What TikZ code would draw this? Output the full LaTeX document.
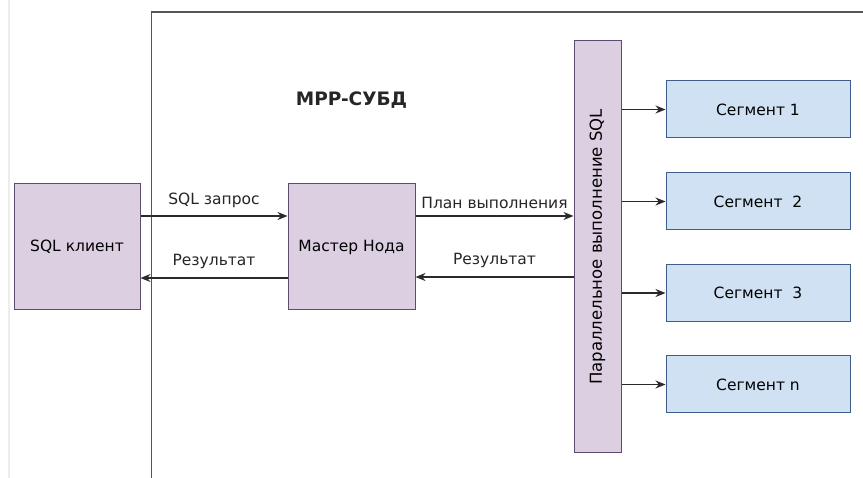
\documentclass[tikz,border=0pt]{standalone}
\usepackage{fontspec}
\setmainfont{DejaVu Sans}
\usetikzlibrary{arrows.meta}

\definecolor{lilacfill}{HTML}{DCCFE2}
\definecolor{lilacline}{HTML}{5E4C70}
\definecolor{segfill}{HTML}{CFE1F2}
\definecolor{segline}{HTML}{3F5F8A}
\definecolor{frameline}{HTML}{555555}
\definecolor{arrowline}{HTML}{2A2A2A}
\definecolor{faint}{HTML}{EDEDED}

\tikzset{
  lilacbox/.style={draw=lilacline, fill=lilacfill, line width=1pt, inner sep=0pt},
  segbox/.style={draw=segline, fill=segfill, line width=1pt, inner sep=0pt,
                 minimum width=184pt, minimum height=57pt},
  flow/.style={draw=arrowline, line width=1.5pt, -{Stealth[length=10pt,width=8pt]}},
  lbl/.style={inner sep=0pt, text=black!85},
}

\begin{document}
\begin{tikzpicture}[x=1pt, y=-1pt, font=\fontsize{15.5}{18}\selectfont]
  \useasboundingbox (0,0) rectangle (863,478);
  \fill[white] (0,0) rectangle (863,478);

  % faint edge on the left and the system frame
  \draw[faint, line width=2pt] (9,0) -- (9,478);
  \draw[frameline, line width=1.6pt] (151.5,478) -- (151.5,12) -- (863,12);

  \node[font=\bfseries\fontsize{18.5}{22}\selectfont, text=black!85] (title) at (351.5,100) {MPP-СУБД};

  % main blocks
  \node[lilacbox, minimum width=126pt, minimum height=126pt] (client) at (77,247) {SQL клиент};
  \node[lilacbox, minimum width=127pt, minimum height=126pt] (master) at (351.5,247) {Мастер Нода};
  \node[lilacbox, minimum width=47pt, minimum height=412pt, font=\fontsize{16.5}{19}\selectfont] (bar) at (597.5,247)
       {\rotatebox{90}{Параллельное выполнение SQL}};

  % segments
  \node[segbox] (s1) at (758,109.5) {Сегмент 1};
  \node[segbox] (s2) at (758,201.5) {Сегмент\ \ 2};
  \node[segbox] (s3) at (758,293) {Сегмент\ \ 3};
  \node[segbox] (sn) at (758,384.5) {Сегмент n};

  % request / result flows
  \draw[flow] ([yshift=31pt]client.east) -- node[lbl, above=8pt] {SQL запрос} ([yshift=31pt]master.west);
  \draw[flow] ([yshift=-31pt]master.west) -- node[lbl, above=9pt] {Результат} ([yshift=-31pt]client.east);
  \draw[flow] ([yshift=31pt]master.east) -- node[lbl, above=7pt] {План выполнения} ([yshift=31pt]bar.west);
  \draw[flow] ([yshift=-30pt]bar.west) -- node[lbl, above=9pt] {Результат} ([yshift=-30pt]master.east);

  % fan-out to segments
  \foreach \s in {s1,s2,s3,sn}
    \draw[flow] (bar.east |- \s.west) -- (\s.west);
\end{tikzpicture}
\end{document}
